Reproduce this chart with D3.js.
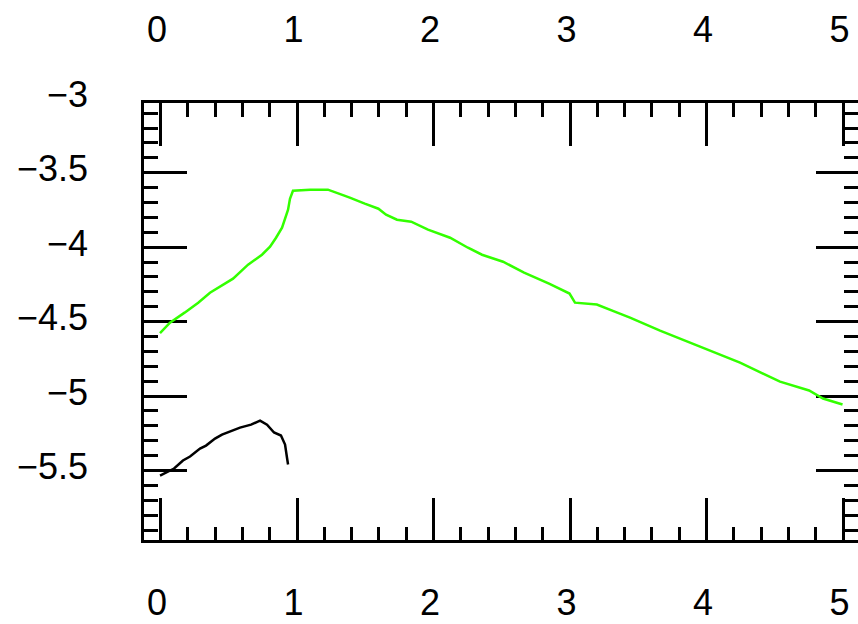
<!DOCTYPE html>
<html>
<head>
<meta charset="utf-8">
<script src="https://cdn.jsdelivr.net/npm/d3@7"></script>
<style>
  html, body { margin: 0; padding: 0; background: #fff; }
  svg { display: block; }
  text { font-family: "Liberation Sans", "DejaVu Sans", sans-serif; fill: #000; }
</style>
</head>
<body>
<script>
// Tick values and their labels
const xTicks = [0, 1, 2, 3, 4, 5];
const xTickLabels = ["0", "1", "2", "3", "4", "5"];
const yTicks = [-3, -3.5, -4, -4.5, -5, -5.5];
const yTickLabels = ["\u22123", "\u22123.5", "\u22124", "\u22124.5", "\u22125", "\u22125.5"];

// Upper (green) curve
const greenX = [0, 0.073, 0.18, 0.28, 0.366, 0.535, 0.645, 0.747, 0.806, 0.85, 0.894, 0.938, 0.952, 0.974,
  1.1, 1.23, 1.31, 1.39, 1.5, 1.6, 1.656, 1.736, 1.84, 1.963, 2.125, 2.256, 2.359, 2.513, 2.667, 2.85,
  3.0, 3.04, 3.2, 3.35, 3.443, 3.663, 3.956, 4.249, 4.542, 4.755, 4.857, 5.0];
const greenY = [-4.58, -4.51, -4.443, -4.376, -4.309, -4.215, -4.121, -4.054, -4.0, -3.94, -3.872, -3.752, -3.678, -3.624,
  -3.617, -3.617, -3.644, -3.671, -3.711, -3.745, -3.785, -3.819, -3.832, -3.886, -3.94, -4.007, -4.054, -4.101, -4.174, -4.248,
  -4.315, -4.376, -4.389, -4.443, -4.477, -4.564, -4.671, -4.779, -4.906, -4.966, -5.02, -5.06];

// Lower (black) curve
const blackX = [0, 0.103, 0.168, 0.22, 0.293, 0.337, 0.403, 0.454, 0.586, 0.667, 0.733, 0.784, 0.835, 0.886, 0.916, 0.93, 0.938];
const blackY = [-5.537, -5.49, -5.436, -5.409, -5.356, -5.336, -5.289, -5.262, -5.215, -5.195, -5.168, -5.195, -5.248, -5.268, -5.329, -5.416, -5.463];

const W = 858, H = 624;
const svg = d3.select("body").append("svg").attr("width", W).attr("height", H);

const x = d3.scaleLinear().domain([-0.132, 5.128]).range([142, 860]);
const y = d3.scaleLinear().domain([-5.98, -3.025]).range([541.5, 101.5]);

const [x0, x1] = x.range();
const [y0, y1] = y.range(); // y0 bottom, y1 top

// Minor ticks: every 0.2 along x, every 0.1 along y
const xMinor = d3.range(0, 5.0001, 0.2).map(v => +v.toFixed(2)).filter(v => Math.abs(v - Math.round(v)) > 1e-6);
const yMinor = d3.range(-5.9, -3.05, 0.1).map(v => +v.toFixed(2)).filter(v => Math.abs(v * 2 - Math.round(v * 2)) > 1e-6);
const yMajorInside = yTicks.filter(v => v > y.domain()[0] && v < y.domain()[1]);

function tickGroup(axis, transform) {
  const g = svg.append("g").attr("transform", transform).call(axis);
  g.select(".domain").remove();
  g.selectAll(".tick line").attr("stroke", "#000").attr("stroke-width", 3).attr("shape-rendering", "crispEdges");
  g.selectAll(".tick text").remove();
  return g;
}

// Inward ticks on all four sides
tickGroup(d3.axisBottom(x).tickValues(xMinor).tickSize(15).tickFormat(""), `translate(0,${y1})`);
tickGroup(d3.axisBottom(x).tickValues(xTicks).tickSize(44).tickFormat(""), `translate(0,${y1})`);
tickGroup(d3.axisTop(x).tickValues(xMinor).tickSize(15).tickFormat(""), `translate(0,${y0})`);
tickGroup(d3.axisTop(x).tickValues(xTicks).tickSize(44).tickFormat(""), `translate(0,${y0})`);
tickGroup(d3.axisRight(y).tickValues(yMinor).tickSize(16).tickFormat(""), `translate(${x0},0)`);
tickGroup(d3.axisRight(y).tickValues(yMajorInside).tickSize(45).tickFormat(""), `translate(${x0},0)`);
tickGroup(d3.axisLeft(y).tickValues(yMinor).tickSize(16).tickFormat(""), `translate(${x1},0)`);
tickGroup(d3.axisLeft(y).tickValues(yMajorInside).tickSize(44).tickFormat(""), `translate(${x1},0)`);

// Frame
svg.append("rect")
  .attr("x", x0).attr("y", y1)
  .attr("width", x1 - x0).attr("height", y0 - y1)
  .attr("fill", "none").attr("stroke", "#000").attr("stroke-width", 3)
  .attr("shape-rendering", "crispEdges");
svg.append("line")
  .attr("x1", x0 - 0.5).attr("x2", x0 - 0.5).attr("y1", y1).attr("y2", y0)
  .attr("stroke", "#000").attr("stroke-width", 1).attr("shape-rendering", "crispEdges");

// Curves
const line = d3.line().x(d => x(d[0])).y(d => y(d[1]));
svg.append("path")
  .datum(greenX.map((v, i) => [v, greenY[i]]))
  .attr("d", line).attr("fill", "none")
  .attr("stroke", "#33ff00").attr("stroke-width", 2.5);
svg.append("path")
  .datum(blackX.map((v, i) => [v, blackY[i]]))
  .attr("d", line).attr("fill", "none")
  .attr("stroke", "#000").attr("stroke-width", 2.5);

// X labels, top and bottom
const fs = 36;
[42, 615].forEach(base => {
  svg.append("g").selectAll("text").data(xTicks).join("text")
    .attr("x", d => x(d) - 3).attr("y", base)
    .attr("text-anchor", "middle").attr("font-size", fs)
    .text((d, i) => xTickLabels[i]);
});

// Y labels, left
svg.append("g").selectAll("text").data(yTicks).join("text")
  .attr("x", 88).attr("y", d => y(d) + 9)
  .attr("text-anchor", "end").attr("font-size", fs)
  .text((d, i) => yTickLabels[i]);
</script>
</body>
</html>
